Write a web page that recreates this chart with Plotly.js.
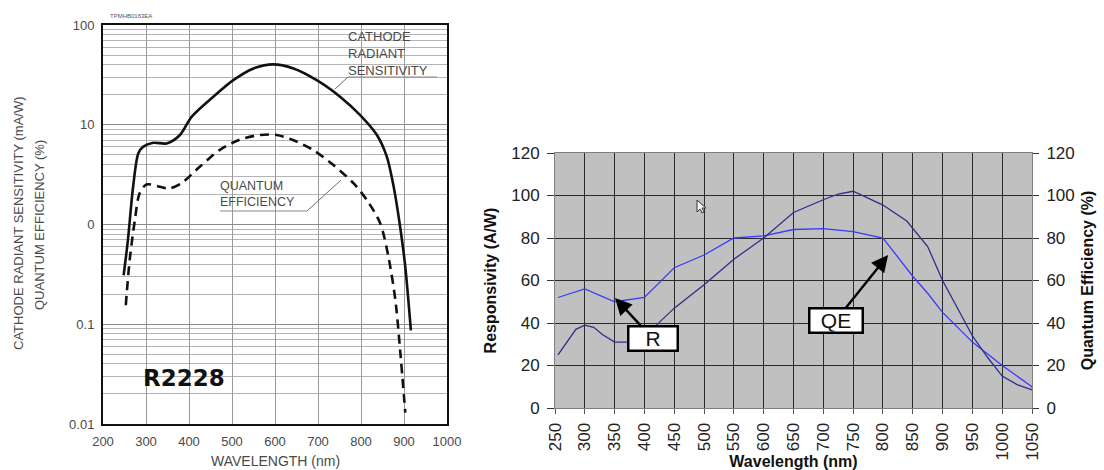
<!DOCTYPE html>
<html>
<head>
<meta charset="utf-8">
<script src="https://cdn.plot.ly/plotly-3.0.1.min.js"></script>
<style>
html,body{margin:0;padding:0;background:#fff;}
#chart{width:1104px;height:470px;}
</style>
</head>
<body>
<div id="chart"></div>
<script>
// ---------- Left chart (R2228, log scale) ----------
const sensWavelength = [248,258,270,282,293,317,348,379,406,456,503,550,596,643,697,752,798,837,860,876,891,903,916];
const sensValues     = [0.31,0.70,2.39,5.15,6.0,6.6,6.5,7.9,12,19,28,36.7,40.3,36.7,28,19,12.5,7.9,4.8,2.39,0.95,0.376,0.087];

const qeLogWavelength = [253,262,274,285,301,332,355,382,425,471,518,565,604,643,689,736,783,814,845,864,880,891,903];
const qeLogValues     = [0.155,0.44,1.1,2.05,2.52,2.39,2.3,2.58,3.79,5.57,7.1,7.9,7.9,7.0,5.57,3.94,2.58,1.75,1.02,0.47,0.174,0.055,0.013];

const leftYTickVals = [0.01, 0.1, 1, 10, 100];
const leftYTickText = ["0.01", "0.1", "0", "10", "100"];
const leftXTickVals = [200,300,400,500,600,700,800,900,1000];

// ---------- Right chart (linear) ----------
const respWavelength = [255,300,350,400,450,500,550,600,650,700,750,800,850,875,900,950,1000,1050,1053];
const respValues     = [52,56,50,52,66,72,80,81,84,84.4,83,80,62,54,45,31,20,10,5];

const qeWavelength = [255,270,285,300,315,330,350,375,400,420,450,500,550,600,625,650,700,725,750,800,840,875,900,950,975,1000,1025,1050];
const qeValues     = [25,31,37,39,38,34.5,31,31,34,39,47,58,70,80,86,92,98,100.7,102,95.5,88,76,60,34,24,15,11,8.5];

const W = 1104, H = 470;
const px = v => v / W;
const py = v => 1 - v / H;

// minor log gridlines
const minorVals = [];
[0.01, 0.1, 1, 10].forEach(d => { for (let k = 2; k <= 9; k++) minorVals.push(+(d * k).toPrecision(3)); });

const grayText = '#4a4a4a';
const leftFont = {family: 'Liberation Sans, Arial, sans-serif', size: 13, color: grayText};
const labelFont = {family: 'Liberation Sans, Arial, sans-serif', size: 12.5, color: grayText};
const rightTick = {family: 'Liberation Sans, Arial, sans-serif', size: 17, color: '#222'};
const rightTitle = {family: 'Liberation Sans, Arial, sans-serif', size: 16, color: '#111', weight: 'bold'};

const traces = [
  {x: sensWavelength, y: sensValues, xaxis: 'x', yaxis: 'y', mode: 'lines',
   line: {color: '#111', width: 2.6, shape: 'spline', smoothing: 0.8}, name: 'Cathode radiant sensitivity', hoverinfo: 'x+y'},
  {x: qeLogWavelength, y: qeLogValues, xaxis: 'x', yaxis: 'y', mode: 'lines',
   line: {color: '#111', width: 2.6, dash: '9px,6px', shape: 'spline', smoothing: 0.8}, name: 'Quantum efficiency', hoverinfo: 'x+y'},
  {x: respWavelength, y: respValues, xaxis: 'x2', yaxis: 'y2', mode: 'lines',
   line: {color: '#3a3aff', width: 1.3}, name: 'R', hoverinfo: 'x+y'},
  {x: qeWavelength, y: qeValues, xaxis: 'x2', yaxis: 'y3', mode: 'lines',
   line: {color: '#2e2e8a', width: 1.3}, name: 'QE', hoverinfo: 'x+y'}
];

const layout = {
  width: W, height: H,
  margin: {l: 0, r: 0, t: 0, b: 0},
  paper_bgcolor: '#fff',
  showlegend: false,
  xaxis: {
    domain: [px(103), px(447)], anchor: 'y', range: [200, 1000],
    tickmode: 'array', tickvals: leftXTickVals, ticks: '',
    showgrid: true, gridcolor: '#9a9a9a', gridwidth: 1,
    showline: true, linecolor: '#111', linewidth: 2, mirror: true,
    zeroline: false, tickfont: leftFont, ticklabelstandoff: 4
  },
  yaxis: {
    domain: [py(424), py(25)], anchor: 'x', type: 'log', range: [-2, 2],
    tickmode: 'array', tickvals: leftYTickVals, ticktext: leftYTickText, ticks: '',
    showgrid: true, gridcolor: '#8a8a8a', gridwidth: 1,
    minor: {tickmode: 'array', tickvals: minorVals, showgrid: true, gridcolor: '#b4b4b4', gridwidth: 1, ticks: ''},
    showline: true, linecolor: '#111', linewidth: 2, mirror: true,
    zeroline: false, tickfont: leftFont, ticklabelstandoff: 4
  },
  xaxis2: {
    domain: [px(555), px(1032)], anchor: 'y2', range: [250, 1050],
    tickmode: 'linear', tick0: 250, dtick: 50, tickangle: -90,
    ticks: 'outside', ticklen: 5, tickcolor: '#555',
    showgrid: true, gridcolor: '#2a2a2a', gridwidth: 1,
    showline: true, linecolor: '#808080', linewidth: 1, mirror: true,
    zeroline: false, tickfont: rightTick, ticklabelstandoff: 2,
    title: {text: 'Wavelength (nm)', font: rightTitle, standoff: 0}
  },
  yaxis2: {
    domain: [py(408), py(153)], anchor: 'x2', range: [0, 120],
    tickmode: 'linear', tick0: 0, dtick: 20,
    ticks: 'outside', ticklen: 7, tickcolor: '#333',
    showgrid: true, gridcolor: '#2a2a2a', gridwidth: 1,
    showline: true, linecolor: '#808080', linewidth: 1,
    zeroline: false, tickfont: rightTick, ticklabelstandoff: 4,
    title: {text: 'Responsivity (A/W)', font: rightTitle, standoff: 10}
  },
  yaxis3: {
    overlaying: 'y2', side: 'right', anchor: 'x2', range: [0, 120],
    tickmode: 'linear', tick0: 0, dtick: 20,
    ticks: 'outside', ticklen: 6, tickcolor: '#333',
    showgrid: false, zeroline: false,
    showline: true, linecolor: '#808080', linewidth: 1,
    tickfont: rightTick, ticklabelstandoff: 4,
    title: {text: 'Quantum Efficiency (%)', font: rightTitle, standoff: 8}
  },
  plot_bgcolor: '#fff',
  shapes: [
    // right plot gray background
    {type: 'rect', xref: 'x2 domain', yref: 'y2 domain', x0: 0, x1: 1, y0: 0, y1: 1,
     fillcolor: '#c0c0c0', line: {width: 0}, layer: 'below'},
    // leader lines (left chart)
    {type: 'line', xref: 'paper', yref: 'paper', x0: px(335), y0: py(89), x1: px(348), y1: py(77), line: {color: '#6a6a6a', width: 1}},
    {type: 'line', xref: 'paper', yref: 'paper', x0: px(348), y0: py(77), x1: px(437), y1: py(77), line: {color: '#8a8a8a', width: 1}},
    {type: 'line', xref: 'paper', yref: 'paper', x0: px(220), y0: py(211), x1: px(307), y1: py(211), line: {color: '#8a8a8a', width: 1}},
    {type: 'line', xref: 'paper', yref: 'paper', x0: px(307), y0: py(211), x1: px(341), y1: py(180), line: {color: '#6a6a6a', width: 1}},
    // mouse cursor glyph in right chart
    {type: 'path', xref: 'paper', yref: 'paper', xsizemode: 'pixel', ysizemode: 'pixel',
     xanchor: px(697), yanchor: py(200),
     path: 'M 0 0 L 0 -12 L 3 -9 L 5 -13 L 7 -12 L 5 -8 L 9 -8 Z',
     fillcolor: '#f4f4f4', line: {color: '#333', width: 1}}
  ],
  annotations: [
    {xref: 'paper', yref: 'paper', x: px(108), y: py(16), text: 'TPMHB0163EA', showarrow: false,
     xanchor: 'left', yanchor: 'middle', font: {family: 'Liberation Sans, Arial', size: 6, color: '#555'}},
    {xref: 'paper', yref: 'paper', x: px(19), y: py(223), text: 'CATHODE RADIANT SENSITIVITY (mA/W)', textangle: -90,
     showarrow: false, xanchor: 'center', yanchor: 'middle', font: leftFont},
    {xref: 'paper', yref: 'paper', x: px(39), y: py(225), text: 'QUANTUM EFFICIENCY (%)', textangle: -90,
     showarrow: false, xanchor: 'center', yanchor: 'middle', font: leftFont},
    {xref: 'paper', yref: 'paper', x: px(275), y: py(461), text: 'WAVELENGTH (nm)', showarrow: false,
     xanchor: 'center', yanchor: 'middle', font: {family: 'Liberation Sans, Arial', size: 14, color: grayText}},
    {xref: 'paper', yref: 'paper', x: px(347), y: py(53), text: 'CATHODE<br>RADIANT<br>SENSITIVITY', showarrow: false,
     xanchor: 'left', yanchor: 'middle', align: 'left', borderpad: 0, font: {family: 'Liberation Sans, Arial, sans-serif', size: 13, color: grayText, lineposition: 'none'}},
    {xref: 'paper', yref: 'paper', x: px(219), y: py(194), text: 'QUANTUM<br>EFFICIENCY', showarrow: false,
     xanchor: 'left', yanchor: 'middle', align: 'left', borderpad: 0, font: labelFont},
    {xref: 'paper', yref: 'paper', x: px(184), y: py(378), text: '<b>R2228</b>', showarrow: false, xanchor: 'center', yanchor: 'middle',
     font: {family: 'DejaVu Sans, sans-serif', size: 23, color: '#111'}},
    // right chart callouts
    {xref: 'x2', yref: 'y2', x: 350.7, y: 51.8, ax: 38, ay: 41, text: 'R', showarrow: true,
     arrowhead: 2, arrowsize: 1.4, arrowwidth: 2.4, arrowcolor: '#000',
     bgcolor: '#fff', bordercolor: '#000', borderwidth: 2.5, borderpad: 0, width: 47, height: 22,
     font: {family: 'Liberation Sans, Arial', size: 21, color: '#111'}},
    {xref: 'x2', yref: 'y2', x: 808.7, y: 72, ax: -52, ay: 65, text: 'QE', showarrow: true,
     arrowhead: 2, arrowsize: 1.4, arrowwidth: 2.4, arrowcolor: '#000',
     bgcolor: '#fff', bordercolor: '#000', borderwidth: 2.5, borderpad: 0, width: 51, height: 22,
     font: {family: 'Liberation Sans, Arial', size: 21, color: '#111'}}
  ]
};

Plotly.newPlot('chart', traces, layout, {displayModeBar: false, staticPlot: true});
</script>
</body>
</html>
